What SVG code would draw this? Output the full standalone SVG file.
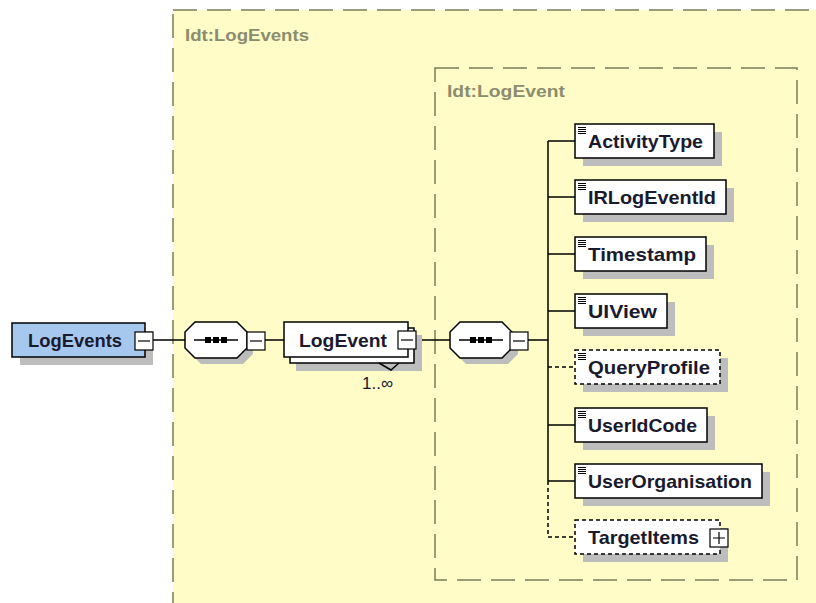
<svg xmlns="http://www.w3.org/2000/svg" width="816" height="603" viewBox="0 0 816 603">
<style>
.bx{fill:#fff;stroke:#000;stroke-width:1.5}
.dbx{fill:#fff;stroke:#000;stroke-width:1.5;stroke-dasharray:4 3}
.sh{fill:#bdbdbd}
.t{font-family:"Liberation Sans",Arial,sans-serif;font-weight:bold;font-size:19px;fill:#1a1a2e}
.lbl{font-family:"Liberation Sans",Arial,sans-serif;font-weight:bold;font-size:17px;fill:#8c8c6e}
.ln{stroke:#000;stroke-width:1.5;fill:none}
.dl{stroke:#000;stroke-width:1.5;fill:none;stroke-dasharray:4 3}
.grp{fill:#fffcc8;stroke:#7c7c5a;stroke-width:1.5;stroke-dasharray:24 10}
.ic{stroke:#000;stroke-width:1}
</style>
<defs>
<g id="icon"><path class="ic" d="M0 0.5h8M0 2.5h8M0 4.5h8M0 6.5h8"/></g>
<g id="minus"><rect x="0" y="0" width="18" height="18" fill="#fff" stroke="#000" stroke-width="1.2"/><path d="M3 9h12" stroke="#000" stroke-width="1.2"/></g>
<g id="seq">
<polygon points="10,0 52,0 62,10 62,26 52,36 10,36 0,26 0,10" transform="translate(6,6)" fill="#bdbdbd"/>
<polygon points="10,0 52,0 62,10 62,26 52,36 10,36 0,26 0,10" fill="#fff" stroke="#000" stroke-width="1.5"/>
<path d="M9 18h44" stroke="#000" stroke-width="1.5"/>
<rect x="20" y="15" width="6" height="6"/><rect x="28" y="15" width="6" height="6"/><rect x="36" y="15" width="6" height="6"/>
</g>
</defs>
<rect width="816" height="603" fill="#fff"/>
<rect class="grp" x="173" y="10" width="700" height="640"/>
<text class="lbl" x="185" y="41" textLength="124" lengthAdjust="spacingAndGlyphs">Idt:LogEvents</text>
<rect class="grp" x="435" y="68" width="362" height="512"/>
<text class="lbl" x="447" y="97" textLength="118" lengthAdjust="spacingAndGlyphs">Idt:LogEvent</text>

<g id="connectors">
<path class="ln" d="M153 340H185M265 340H284M417 340H450M527 340H548"/>
<path class="ln" d="M548 141V481M548 141H575M548 197H575M548 254H575M548 311H575M548 425H575M548 481H575"/>
<path class="dl" d="M548 481V537H575M548 367H575"/>
</g>

<g id="LogEvents">
<rect class="sh" x="20" y="331" width="133" height="34"/>
<rect x="12" y="323" width="133" height="34" fill="#a6c8ef" stroke="#000" stroke-width="1.5"/>
<text class="t" x="28" y="347" textLength="94" lengthAdjust="spacingAndGlyphs">LogEvents</text>
<use href="#minus" x="135" y="332"/>
</g>

<g id="seq1"><use href="#seq" x="185" y="322"/><use href="#minus" x="247" y="332"/></g>

<g id="LogEvent">
<rect class="sh" x="296" y="335" width="126" height="36"/>
<rect class="bx" x="290" y="328" width="124" height="35"/>
<rect class="bx" x="284" y="322" width="124" height="35"/>
<path class="ln" d="M379 363L391 370L399 363"/>
<text class="t" x="299" y="347" textLength="88" lengthAdjust="spacingAndGlyphs">LogEvent</text>
<use href="#minus" x="398" y="331"/>
<text x="362" y="389" font-family="'Liberation Sans',Arial,sans-serif" font-size="17" fill="#1a1a2e">1..∞</text>
</g>

<g id="seq2"><use href="#seq" x="450" y="322"/><use href="#minus" x="510" y="332"/></g>

<g id="ActivityType">
<rect class="sh" x="583" y="132" width="139" height="34"/>
<rect class="bx" x="575" y="124" width="139" height="34"/>
<use href="#icon" x="578" y="127"/>
<text class="t" x="588" y="148" textLength="115" lengthAdjust="spacingAndGlyphs">ActivityType</text>
</g>
<g id="IRLogEventId">
<rect class="sh" x="583" y="188" width="151" height="34"/>
<rect class="bx" x="575" y="180" width="151" height="34"/>
<use href="#icon" x="578" y="183"/>
<text class="t" x="588" y="204" textLength="128" lengthAdjust="spacingAndGlyphs">IRLogEventId</text>
</g>
<g id="Timestamp">
<rect class="sh" x="583" y="245" width="131" height="34"/>
<rect class="bx" x="575" y="237" width="131" height="34"/>
<use href="#icon" x="578" y="240"/>
<text class="t" x="588" y="261" textLength="108" lengthAdjust="spacingAndGlyphs">Timestamp</text>
</g>
<g id="UIView">
<rect class="sh" x="583" y="302" width="92" height="34"/>
<rect class="bx" x="575" y="294" width="92" height="34"/>
<use href="#icon" x="578" y="297"/>
<text class="t" x="588" y="318" textLength="69" lengthAdjust="spacingAndGlyphs">UIView</text>
</g>
<g id="QueryProfile">
<rect class="sh" x="583" y="358" width="145" height="34"/>
<rect class="dbx" x="575" y="350" width="145" height="34"/>
<use href="#icon" x="578" y="353"/>
<text class="t" x="588" y="374" textLength="122" lengthAdjust="spacingAndGlyphs">QueryProfile</text>
</g>
<g id="UserIdCode">
<rect class="sh" x="583" y="416" width="132" height="34"/>
<rect class="bx" x="575" y="408" width="132" height="34"/>
<use href="#icon" x="578" y="411"/>
<text class="t" x="588" y="432" textLength="109" lengthAdjust="spacingAndGlyphs">UserIdCode</text>
</g>
<g id="UserOrganisation">
<rect class="sh" x="583" y="472" width="187" height="34"/>
<rect class="bx" x="575" y="464" width="187" height="34"/>
<use href="#icon" x="578" y="467"/>
<text class="t" x="588" y="488" textLength="164" lengthAdjust="spacingAndGlyphs">UserOrganisation</text>
</g>
<g id="TargetItems">
<rect class="sh" x="583" y="528" width="145" height="34"/>
<rect class="dbx" x="575" y="520" width="145" height="34"/>
<text class="t" x="588" y="544" textLength="111" lengthAdjust="spacingAndGlyphs">TargetItems</text>
<rect x="710" y="529" width="18" height="18" fill="#fff" stroke="#000" stroke-width="1.2"/>
<path d="M713 538h12M719 532v12" stroke="#000" stroke-width="1.2"/>
</g>
</svg>
